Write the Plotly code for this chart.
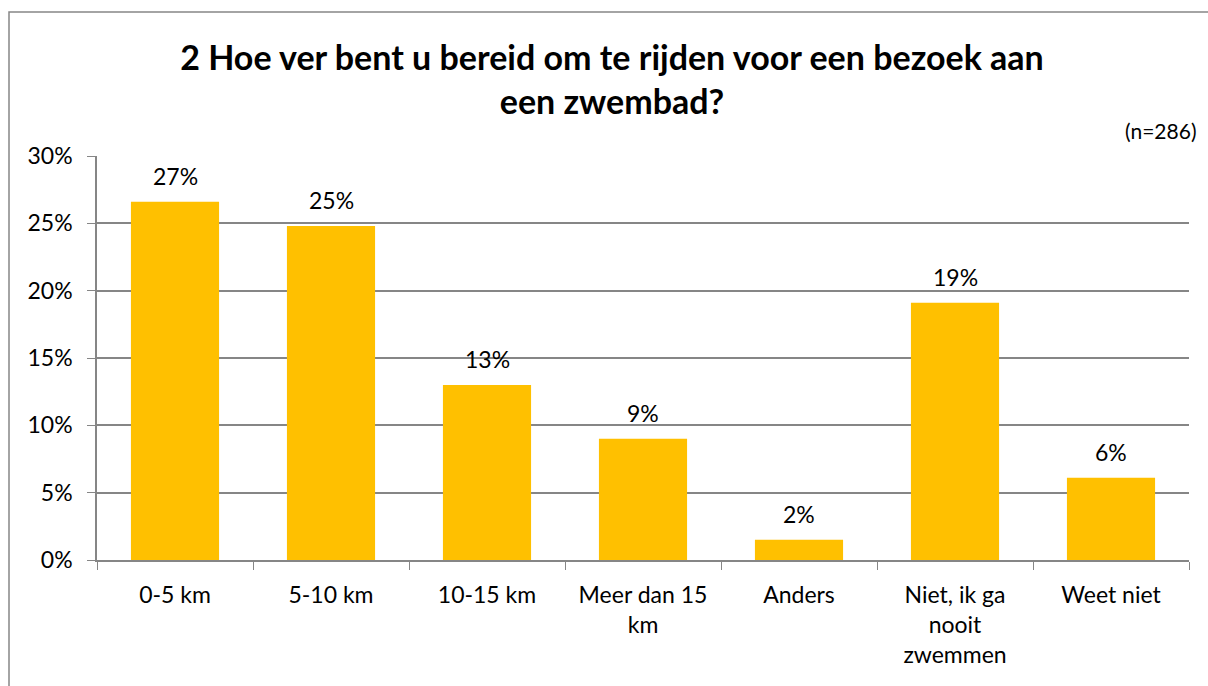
import plotly.graph_objects as go

categories = ["0-5 km", "5-10 km", "10-15 km", "Meer dan 15<br>km", "Anders",
              "Niet, ik ga<br>nooit<br>zwemmen", "Weet niet"]
values = [0.266, 0.248, 0.130, 0.090, 0.015, 0.191, 0.061]
labels = ["27%", "25%", "13%", "9%", "2%", "19%", "6%"]
title_text = "2 Hoe ver bent u bereid om te rijden voor een bezoek aan<br>een zwembad?"
n_text = "(n=286)"

FONT = "Lato, Open Sans, sans-serif"
W, H = 1208, 686
L, R, T, B = 97, 19, 156, 126
pw, ph = W - L - R, H - T - B

def px(x):
    return (x - L) / pw

def py(y):
    return (H - B - y) / ph

fig = go.Figure(go.Bar(
    x=categories, y=values,
    marker=dict(color="#FFC000", line=dict(width=0)),
    hoverinfo="x+y",
))

label_annotations = [
    dict(x=c, y=v, text=t, xref="x", yref="y", showarrow=False,
         yanchor="middle", yshift=26,
         font=dict(size=23, family=FONT, color="#000000"))
    for c, v, t in zip(categories, values, labels)
]

fig.update_layout(
    width=W, height=H,
    margin=dict(l=L, r=R, t=T, b=B),
    paper_bgcolor="white", plot_bgcolor="white",
    bargap=0.435, showlegend=False,
    font=dict(family=FONT, size=23, color="#000000"),
    title=dict(text="<b>" + title_text + "</b>", x=612 / W, xanchor="center",
               y=1 - 70 / H, yanchor="middle",
               font=dict(size=34, family=FONT, color="#000000")),
    xaxis=dict(type="category", showgrid=False, showline=True, linecolor="#868686",
               linewidth=1.5, ticks="outside", tickson="boundaries", ticklen=8,
               tickcolor="#868686", tickfont=dict(size=23, family=FONT),
               ticklabelstandoff=14),
    yaxis=dict(range=[0, 0.30], tickvals=[0, 0.05, 0.10, 0.15, 0.20, 0.25, 0.30],
               tickformat=".0%", showgrid=True, gridcolor="#868686", gridwidth=1.5,
               showline=True, linecolor="#868686", linewidth=1.5,
               ticks="outside", ticklen=8, tickcolor="#868686",
               tickfont=dict(size=23, family=FONT), zeroline=False,
               ticklabelstandoff=10),
    shapes=[dict(type="rect", xref="paper", yref="paper",
                 x0=px(9), x1=px(1212), y0=py(690), y1=py(12),
                 line=dict(color="#868686", width=1.5), fillcolor="rgba(0,0,0,0)",
                 layer="below")],
    annotations=[dict(text=n_text, xref="paper", yref="paper", x=px(1198), y=py(131),
                      xanchor="right", yanchor="middle", showarrow=False,
                      font=dict(size=21, family=FONT, color="#000000"))] + label_annotations,
)

fig.write_html("out.html", config={"displayModeBar": False},
               post_script="document.body.style.margin='0';document.body.style.overflow='hidden';")
